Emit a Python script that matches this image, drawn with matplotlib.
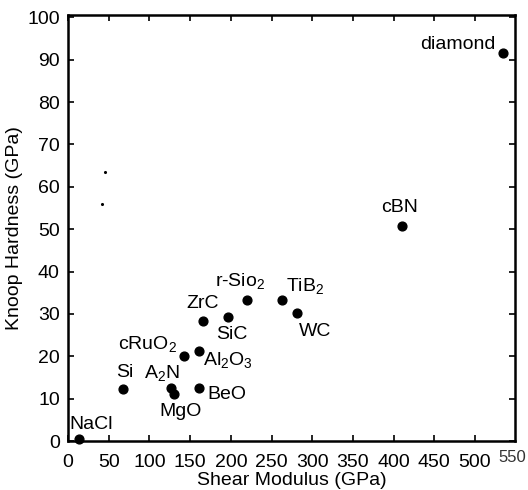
import matplotlib
matplotlib.use("Agg")
import matplotlib.pyplot as plt

plt.rcParams["font.family"] = ["Liberation Sans", "DejaVu Sans"]
plt.rcParams["mathtext.default"] = "regular"

# materials: shear modulus (GPa) vs Knoop hardness (GPa)
materials = ["NaCl", "Si", "A$_2$N", "MgO", "cRuO$_2$", "Al$_2$O$_3$", "BeO",
             "ZrC", "SiC", "r-Sio$_2$", "TiB$_2$", "WC", "diamond", "cBN"]
shear = [13, 67.6, 127, 130, 143, 161, 161, 166, 196, 220, 262.5, 281.5, 535, 410]
hardness = [0.4, 12.2, 12.5, 11.0, 20.1, 21.3, 12.4, 28.4, 29.2, 33.3, 33.3, 30.3, 91.6, 50.8]
# label offsets in pixels (dx, dy)
label_dx = [12, 2, -10, 7, -37, 29, 28, -1, 4, -7, 23, 18, -46, -2]
label_dy = [15, 17, 15, -17, 12, -9, -6, 17, -17, 19, 14, -19, 8, 18]

# two specks left over from the scanned original
speck_x = [45, 42]
speck_y = [63.5, 56]

x_ticks = list(range(0, 501, 50))
y_ticks = list(range(0, 101, 10))

fig = plt.figure(figsize=(5.28, 4.90), dpi=100)
ax = fig.add_axes([0.129, 0.1, 0.846, 0.869])

ax.scatter(shear, hardness, s=40, color="black", zorder=3, clip_on=False)
ax.scatter(speck_x, speck_y, s=1.5, color="black")

for name, x, y, dx, dy in zip(materials, shear, hardness, label_dx, label_dy):
    ax.annotate(name, (x, y), xytext=(dx, dy), textcoords="offset pixels",
                ha="center", va="center", fontsize=14)

ax.set_xlim(0, 549)
ax.set_ylim(0, 100.5)
ax.set_xticks(x_ticks)
ax.set_yticks(y_ticks)
ax.tick_params(direction="in", top=True, right=True, length=4, width=1.2,
               labelsize=14, pad=6)
ax.tick_params(axis="x", pad=9)
# the last x label sits apart, a little higher, at the corner
fig.text(0.997, 0.066, "550", ha="right", va="center", fontsize=12,
         color="#333333")

for s in ax.spines.values():
    s.set_linewidth(1.8)

ax.set_xlabel("Shear Modulus (GPa)", fontsize=14, labelpad=1)
ax.set_ylabel("Knoop Hardness (GPa)", fontsize=14, labelpad=3)

fig.savefig("out.png", dpi=100)
